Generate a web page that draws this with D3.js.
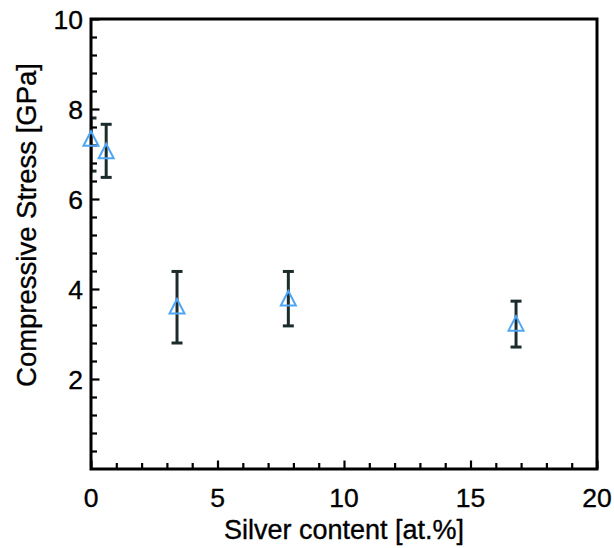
<!DOCTYPE html>
<html>
<head>
<meta charset="utf-8">
<script src="https://cdn.jsdelivr.net/npm/d3@7"></script>
<style>
  html, body { margin: 0; padding: 0; background: #fff; }
  svg { display: block; }
  text { font-family: "Liberation Sans", Arial, Helvetica, sans-serif; fill: #000; stroke: #000; stroke-width: 0.35px; }
</style>
</head>
<body>
<script>
// ---- data ----
const silver = [0, 0.6, 3.4, 7.8, 16.8];
const stress = [7.33, 7.05, 3.6, 3.78, 3.22];
const errLow = [6.62, 6.48, 2.8, 3.18, 2.71];
const errHigh = [7.8, 7.66, 4.39, 4.39, 3.73];
const xTicks = [0, 5, 10, 15, 20];
const yTicks = [2, 4, 6, 8, 10];
const xMinor = d3.range(0, 21, 1);
const yMinor = d3.range(0, 50.1, 2).map(v => +(v / 5).toFixed(2));
const xTitle = "Silver content [at.%]";
const yTitle = "Compressive Stress [GPa]";

// ---- layout ----
const W = 614, H = 548;
const m = { left: 91, right: 597, top: 19, bottom: 469 };

const svg = d3.select("body").append("svg").attr("width", W).attr("height", H);

const x = d3.scaleLinear().domain([0, 20]).range([m.left, m.right]);
const y = d3.scaleLinear().domain([0, 10]).range([m.bottom, m.top]);

svg.append("clipPath").attr("id", "plotclip").append("rect")
  .attr("x", m.left).attr("y", m.top)
  .attr("width", m.right - m.left).attr("height", m.bottom - m.top);

// minor ticks (inward)
const xMinorAxis = d3.axisBottom(x).tickValues(xMinor.filter(v => v % 5 !== 0)).tickSize(-6).tickFormat("");
const yMinorAxis = d3.axisLeft(y).tickValues(yMinor.filter(v => Math.abs(v / 2 - Math.round(v / 2)) > 1e-6)).tickSize(-6).tickFormat("");
const xMajorAxis = d3.axisBottom(x).tickValues(xTicks).tickSize(-8.5).tickFormat("");
const yMajorAxis = d3.axisLeft(y).tickValues(yTicks).tickSize(-8.5).tickFormat("");

[[xMinorAxis, "x"], [xMajorAxis, "x"], [yMinorAxis, "y"], [yMajorAxis, "y"]].forEach(([ax, k]) => {
  const g = svg.append("g")
    .attr("transform", k === "x" ? `translate(0,${m.bottom})` : `translate(${m.left},0)`)
    .call(ax);
  g.select(".domain").remove();
  g.selectAll("line").attr("stroke", "#000").attr("stroke-width", 2.2);
});

// error bars
const pts = silver.map((s, i) => ({ s, v: stress[i], lo: errLow[i], hi: errHigh[i] }));
const eb = svg.append("g").attr("clip-path", "url(#plotclip)")
  .attr("stroke", "#1c2b2b").attr("stroke-width", 3).attr("fill", "none");
const cap = 5.5;
pts.forEach(p => {
  eb.append("line").attr("x1", x(p.s)).attr("x2", x(p.s)).attr("y1", y(p.lo)).attr("y2", y(p.hi));
  eb.append("line").attr("x1", x(p.s) - cap).attr("x2", x(p.s) + cap).attr("y1", y(p.lo)).attr("y2", y(p.lo));
  eb.append("line").attr("x1", x(p.s) - cap).attr("x2", x(p.s) + cap).attr("y1", y(p.hi)).attr("y2", y(p.hi));
});

// frame
svg.append("rect")
  .attr("x", m.left).attr("y", m.top)
  .attr("width", m.right - m.left).attr("height", m.bottom - m.top)
  .attr("fill", "none").attr("stroke", "#000").attr("stroke-width", 3);

// tick labels
svg.append("g").selectAll("text").data(xTicks).join("text")
  .attr("x", d => x(d)).attr("y", 507)
  .attr("text-anchor", "middle").attr("font-size", 26.5)
  .text(d => d);
svg.append("g").selectAll("text").data(yTicks).join("text")
  .attr("x", 83).attr("y", d => y(d)).attr("dy", "0.36em")
  .attr("text-anchor", "end").attr("font-size", 26.5)
  .text(d => d);

// axis titles
svg.append("text")
  .attr("x", (m.left + m.right) / 2).attr("y", 539)
  .attr("text-anchor", "middle").attr("font-size", 27)
  .text(xTitle);
svg.append("text")
  .attr("transform", `translate(36,225) rotate(-90)`)
  .attr("text-anchor", "middle").attr("font-size", 27.5)
  .text(yTitle);

// triangle markers
const tw = 7.5, th = 14.5;
svg.append("g").selectAll("path").data(pts).join("path")
  .attr("d", p => {
    const cx = x(p.s), cy = y(p.v);
    return `M${cx},${cy - th * 0.55}L${cx + tw},${cy + th * 0.45}L${cx - tw},${cy + th * 0.45}Z`;
  })
  .attr("fill", "none").attr("stroke", "#4ea6f7").attr("stroke-width", 2);
</script>
</body>
</html>
